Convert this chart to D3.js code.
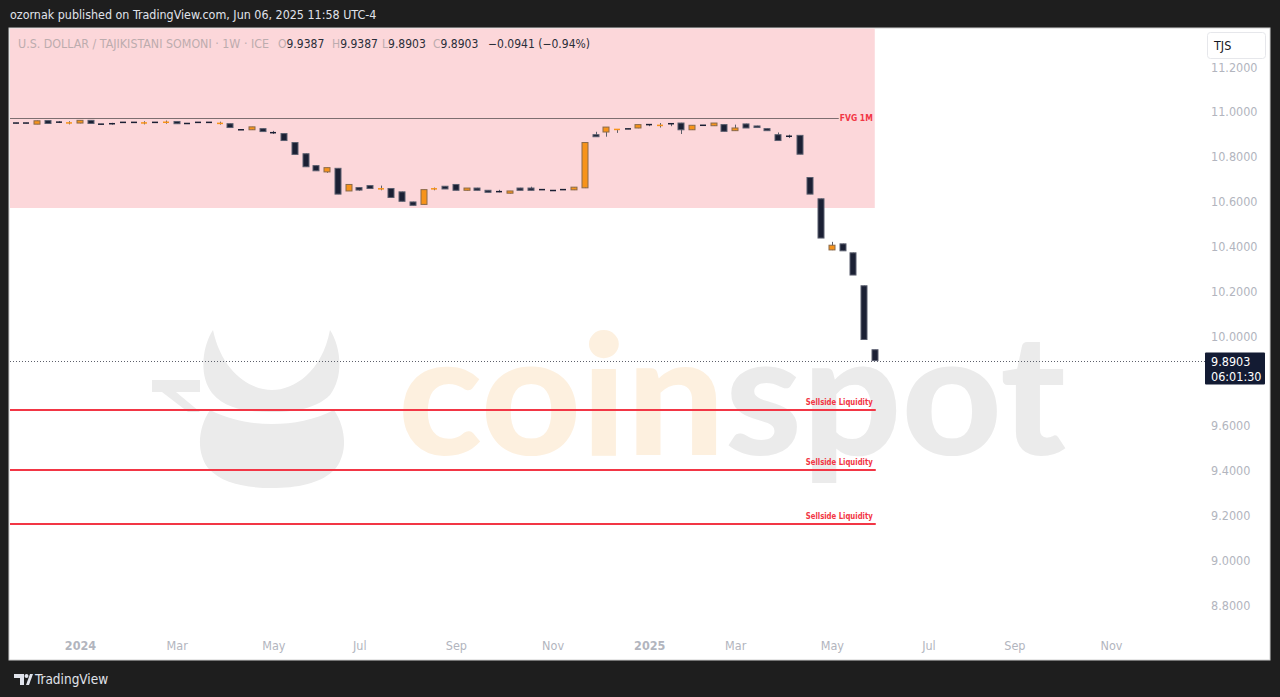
<!DOCTYPE html>
<html><head><meta charset="utf-8">
<script src="https://cdn.jsdelivr.net/npm/d3@7/dist/d3.min.js"></script>
<style>
html,body{margin:0;padding:0;background:#1e1e1e;}
svg{display:block;}
text{font-family:"Liberation Sans Narrow","DejaVu Sans Condensed","Open Sans",sans-serif;}
</style></head>
<body><svg id="c" width="1280" height="697"></svg>
<script>
// ---------- data ----------
const weeks = ["2023-11-20","2023-11-27","2023-12-04","2023-12-11","2023-12-18","2023-12-25",
"2024-01-01","2024-01-08","2024-01-15","2024-01-22","2024-01-29","2024-02-05","2024-02-12","2024-02-19","2024-02-26",
"2024-03-04","2024-03-11","2024-03-18","2024-03-25","2024-04-01","2024-04-08","2024-04-15","2024-04-22","2024-04-29",
"2024-05-06","2024-05-13","2024-05-20","2024-05-27","2024-06-03","2024-06-10","2024-06-17","2024-06-24",
"2024-07-01","2024-07-08","2024-07-15","2024-07-22","2024-07-29","2024-08-05","2024-08-12","2024-08-19","2024-08-26",
"2024-09-02","2024-09-09","2024-09-16","2024-09-23","2024-09-30","2024-10-07","2024-10-14","2024-10-21","2024-10-28",
"2024-11-04","2024-11-11","2024-11-18","2024-11-25","2024-12-02","2024-12-09","2024-12-16","2024-12-23","2024-12-30",
"2025-01-06","2025-01-13","2025-01-20","2025-01-27","2025-02-03","2025-02-10","2025-02-17","2025-02-24",
"2025-03-03","2025-03-10","2025-03-17","2025-03-24","2025-03-31","2025-04-07","2025-04-14","2025-04-21","2025-04-28",
"2025-05-05","2025-05-12","2025-05-19","2025-05-26","2025-06-02"];
const open = [10.950,10.950,10.945,10.961,10.957,10.950,
10.950,10.962,10.945,10.950,10.953,10.953,10.950,10.953,10.953,
10.957,10.948,10.953,10.953,10.948,10.947,10.920,10.920,10.925,
10.907,10.903,10.863,10.813,10.760,10.732,10.748,10.647,
10.662,10.671,10.656,10.658,10.643,10.598,10.587,10.656,10.668,
10.676,10.650,10.660,10.650,10.647,10.637,10.660,10.660,10.653,
10.649,10.653,10.652,10.661,10.898,10.910,10.921,10.924,10.928,
10.943,10.939,10.947,10.950,10.920,10.940,10.938,10.943,
10.916,10.946,10.937,10.925,10.898,10.891,10.895,10.707,10.612,
10.384,10.411,10.371,10.224,9.9387];
const high = [10.951,10.951,10.961,10.962,10.958,10.958,
10.962,10.963,10.946,10.951,10.954,10.954,10.958,10.954,10.961,
10.958,10.949,10.954,10.954,10.956,10.948,10.921,10.933,10.926,
10.915,10.904,10.864,10.814,10.761,10.751,10.749,10.676,
10.663,10.672,10.671,10.659,10.644,10.599,10.653,10.662,10.669,
10.677,10.660,10.661,10.651,10.652,10.647,10.661,10.666,10.654,
10.650,10.654,10.664,10.863,10.911,10.932,10.922,10.925,10.943,
10.944,10.950,10.948,10.951,10.940,10.941,10.950,10.944,
10.943,10.947,10.938,10.926,10.908,10.898,10.896,10.708,10.613,
10.420,10.412,10.372,10.225,9.9387];
const low = [10.949,10.949,10.945,10.947,10.950,10.944,
10.949,10.948,10.944,10.943,10.952,10.952,10.944,10.952,10.947,
10.947,10.947,10.952,10.952,10.943,10.930,10.919,10.919,10.912,
10.901,10.872,10.810,10.755,10.737,10.728,10.633,10.647,
10.648,10.658,10.650,10.618,10.601,10.583,10.586,10.650,10.656,
10.650,10.649,10.650,10.641,10.641,10.636,10.650,10.650,10.652,
10.648,10.652,10.651,10.660,10.889,10.889,10.906,10.923,10.927,
10.936,10.930,10.936,10.901,10.919,10.939,10.937,10.913,
10.915,10.928,10.930,10.916,10.872,10.883,10.811,10.633,10.437,
10.383,10.380,10.272,9.9844,9.8903];
const close = [10.950,10.950,10.960,10.948,10.951,10.951,
10.962,10.948,10.945,10.944,10.953,10.953,10.951,10.953,10.954,
10.947,10.948,10.953,10.953,10.949,10.930,10.920,10.933,10.912,
10.907,10.872,10.810,10.755,10.737,10.751,10.633,10.676,
10.651,10.658,10.657,10.618,10.601,10.583,10.653,10.657,10.656,
10.650,10.660,10.650,10.641,10.641,10.647,10.650,10.650,10.653,
10.649,10.653,10.664,10.863,10.889,10.932,10.922,10.924,10.943,
10.943,10.940,10.947,10.920,10.940,10.940,10.950,10.913,
10.928,10.928,10.930,10.916,10.872,10.891,10.811,10.633,10.437,
10.405,10.380,10.272,9.9844,9.8903];

const priceTicks = [8.8,9.0,9.2,9.4,9.6,10.0,10.2,10.4,10.6,10.8,11.0,11.2];
const timeTickDates = ["2024-01-01","2024-03-04","2024-05-06","2024-07-01","2024-09-02","2024-11-04",
                       "2025-01-06","2025-03-03","2025-05-05","2025-07-07","2025-09-01","2025-11-03"];
const timeTickLabels = ["2024","Mar","May","Jul","Sep","Nov","2025","Mar","May","Jul","Sep","Nov"];

const fvgZone = {top:11.45, bottom:10.571, start:"2023-10-01", end:"2025-06-02"};
const fvgLevel = 10.9725;
const sellsideLevels = [9.670, 9.402, 9.161];
const lastPrice = 9.8903;
const countdown = "06:01:30";
const legendTitle = "U.S. DOLLAR / TAJIKISTANI SOMONI · 1W · ICE";
const legendKeys = ["O","H","L","C"];
const legendVals = ["9.9387","9.9387","9.8903","9.8903"];
const legendChange = "−0.0941 (−0.94%)";

// ---------- setup ----------
const svg = d3.select("#c");
const parse = d3.utcParse("%Y-%m-%d");
const candles = weeks.map((d,i)=>({date:parse(d),o:open[i],h:high[i],l:low[i],c:close[i]}));

const frame = {l:10, t:28, r:1270, b:660};
const plotR = 1205;
const t0 = parse("2024-01-01");
const weekPx = 10.74;
const x = d3.scaleUtc()
  .domain([t0, d3.utcDay.offset(t0, 7*74)])
  .range([80, 80 + 74*weekPx]);
const y = d3.scaleLinear().domain([8.8, 11.2]).range([605, 67]);

// background
svg.append("rect").attr("width",1280).attr("height",697).attr("fill","#1e1e1e");
svg.append("rect").attr("x",frame.l-1).attr("y",frame.t).attr("width",frame.r-frame.l+1).attr("height",frame.b-frame.t)
  .attr("fill","#ffffff").attr("stroke","#cfcfcf").attr("stroke-width",1);

svg.append("text").attr("x",10).attr("y",19).attr("fill","#e0e3eb").attr("font-size",12.4)
  .text("ozornak published on TradingView.com, Jun 06, 2025 11:58 UTC-4");

const defs = svg.append("defs");
defs.append("clipPath").attr("id","plot").append("rect")
  .attr("x",frame.l).attr("y",frame.t+0.5).attr("width",plotR-frame.l).attr("height",frame.b-frame.t-0.5);

const plot = svg.append("g").attr("clip-path","url(#plot)");

// FVG zone
plot.append("rect")
  .attr("x", x(parse(fvgZone.start))).attr("y", y(fvgZone.top))
  .attr("width", x(parse(fvgZone.end)) - x(parse(fvgZone.start)))
  .attr("height", y(fvgZone.bottom) - y(fvgZone.top))
  .attr("fill","#fcd7da");

// watermark
const wm = plot.append("g");
wm.append("path").attr("fill","#ebebeb")
  .attr("d","M213,330 C222,372 250,390 272,390 C294,390 322,372 330,330 C340,345 345,375 330,395 C315,410 290,412 272,412 C250,412 226,410 212,393 C198,375 203,345 213,330 Z");
wm.append("path").attr("fill","#ebebeb")
  .attr("d","M210,410 C230,420 250,424 272,424 C294,424 314,420 334,410 C346,428 348,452 336,468 C322,484 296,488 272,488 C248,488 222,484 208,468 C196,452 198,428 210,410 Z");
wm.append("path").attr("fill","#ebebeb").attr("d","M152,380 L200,380 L200,392 L176,392 L200,412 L188,412 L162,392 L152,392 Z");
const wmText = wm.append("text").attr("x",398).attr("y",455).attr("font-size",168)
  .attr("font-weight",900).style("font-family","Lato, 'Open Sans', sans-serif")
  .attr("textLength",668).attr("lengthAdjust","spacingAndGlyphs");
wmText.append("tspan").attr("fill","#fdf0df").text("coin");
wmText.append("tspan").attr("fill","#ebebeb").text("spot");

// FVG level line
const fvgEnd = x(parse(fvgZone.end));
plot.append("line").attr("x1",frame.l).attr("x2",fvgEnd-36).attr("y1",Math.round(y(fvgLevel))+0.5).attr("y2",Math.round(y(fvgLevel))+0.5)
  .attr("stroke","#7d6e70").attr("stroke-width",1);
plot.append("text").attr("x",fvgEnd-2).attr("y",y(fvgLevel)+3).attr("text-anchor","end")
  .attr("fill","#f23645").attr("font-size",8.5).attr("font-weight",600).text("FVG 1M");

// sellside lines
sellsideLevels.forEach(v=>{
  plot.append("line").attr("x1",frame.l).attr("x2",fvgEnd+1).attr("y1",y(v)).attr("y2",y(v))
    .attr("stroke","#f23645").attr("stroke-width",2);
  plot.append("text").attr("x",fvgEnd-2).attr("y",y(v)-5).attr("text-anchor","end")
    .attr("fill","#f23645").attr("font-size",8.5).attr("font-weight",600)
    .attr("textLength",67).attr("lengthAdjust","spacingAndGlyphs").text("Sellside Liquidity");
});

// last price dotted line
plot.append("line").attr("x1",frame.l).attr("x2",plotR).attr("y1",Math.round(y(lastPrice))+0.5).attr("y2",Math.round(y(lastPrice))+0.5)
  .attr("stroke","#5d606b").attr("stroke-width",1).attr("stroke-dasharray","1,2");

// candles
const bw = 7;
const cg = plot.append("g");
cg.selectAll("line.w").data(candles).join("line")
  .attr("x1",d=>Math.round(x(d.date))+0.5).attr("x2",d=>Math.round(x(d.date))+0.5)
  .attr("y1",d=>y(d.h)).attr("y2",d=>y(d.l))
  .attr("stroke","#5d5f6a").attr("stroke-width",1);
cg.selectAll("rect.b").data(candles).join("rect")
  .attr("x",d=>Math.round(x(d.date))-bw/2+0.5)
  .attr("y",d=>{const t=y(Math.max(d.o,d.c)), b=y(Math.min(d.o,d.c)); return (b-t)<1.5 ? (t+b)/2-0.75 : t;})
  .attr("width",bw-1)
  .attr("height",d=>Math.max(1.5, y(Math.min(d.o,d.c))-y(Math.max(d.o,d.c))))
  .attr("fill",d=>d.c>d.o ? "#f7931a" : "#1b2034")
  .attr("stroke",d=>d.c>d.o ? "#8a6a4a" : "#5a5e6e")
  .attr("stroke-width",d=> Math.abs(y(d.o)-y(d.c))<1.5 ? 0 : 1);

// legend
svg.append("text").attr("x",18).attr("y",48).attr("font-size",12).attr("fill","#bcacae")
  .attr("textLength",251).attr("lengthAdjust","spacingAndGlyphs").text(legendTitle);
const legX = [278,332,382,433];
legendKeys.forEach((k,i)=>{
  const t = svg.append("text").attr("x",legX[i]).attr("y",48).attr("font-size",12);
  t.append("tspan").attr("fill","#bcacae").text(k);
  t.append("tspan").attr("fill","#2a2e39").text(legendVals[i]);
});
svg.append("text").attr("x",488).attr("y",48).attr("font-size",12).attr("fill","#2a2e39").text(legendChange);

// y axis
const yAxis = d3.axisRight(y).tickValues(priceTicks).tickFormat(d3.format(".4f")).tickSize(0);
const ya = svg.append("g").attr("transform",`translate(${1211},0)`).call(yAxis);
ya.select(".domain").remove();
ya.selectAll("text").attr("x",0).attr("fill","#b2b5be").attr("font-size",12.5)
  .style("font-family","'Liberation Sans Narrow','DejaVu Sans Condensed',sans-serif");

// TJS box
svg.append("rect").attr("x",1207.5).attr("y",32.5).attr("width",58).attr("height",26).attr("rx",3)
  .attr("fill","#ffffff").attr("stroke","#e6e7eb");
svg.append("text").attr("x",1214).attr("y",50).attr("fill","#131722").attr("font-size",12.5).text("TJS");

// price label
const py = y(lastPrice);
svg.append("rect").attr("x",1205).attr("y",py-8).attr("width",60).attr("height",32).attr("rx",1).attr("fill","#131b33");
svg.append("text").attr("x",1211).attr("y",py+5).attr("fill","#ffffff").attr("font-size",12.5).text(lastPrice.toFixed(4));
svg.append("text").attr("x",1211).attr("y",py+20).attr("fill","#ffffff").attr("font-size",12.5).text(countdown);

// x axis
const xAxis = d3.axisBottom(x).tickValues(timeTickDates.map(parse))
  .tickFormat((d,i)=>timeTickLabels[i]).tickSize(0);
const xa = svg.append("g").attr("transform",`translate(0,${638})`).call(xAxis);
xa.select(".domain").remove();
xa.selectAll("text").attr("fill","#b2b5be").attr("font-size",12.5)
  .style("font-family","'Liberation Sans Narrow','DejaVu Sans Condensed',sans-serif")
  .attr("font-weight",(d,i)=>/^\d{4}$/.test(timeTickLabels[i])?700:400);

// footer
const lg2 = svg.append("g").attr("fill","#e0e3eb");
lg2.append("path").attr("d","M14,674 H24 V685 H20 V678 H14 Z");
lg2.append("circle").attr("cx",26.5).attr("cy",676).attr("r",2);
lg2.append("path").attr("d","M26,685 L30,674 H33 L29,685 Z");
svg.append("text").attr("x",35).attr("y",684).attr("fill","#e0e3eb").attr("font-size",13.5).text("TradingView");
</script></body></html>
